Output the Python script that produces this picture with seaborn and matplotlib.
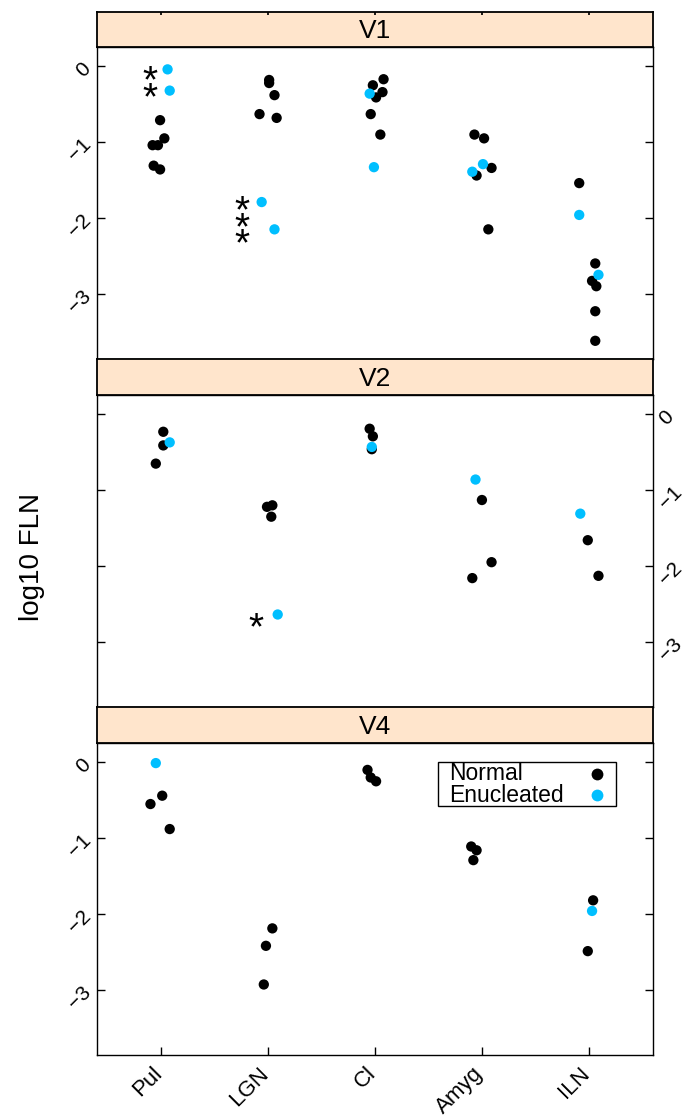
import numpy as np
import pandas as pd
import matplotlib
matplotlib.use("Agg")
import matplotlib.pyplot as plt
import seaborn as sns
from matplotlib.patches import Rectangle
from matplotlib.transforms import ScaledTranslation

# ---------------- data (log10 FLN) ----------------
regions = ["Pul", "LGN", "Cl", "Amyg", "ILN"]
areas = ["V1", "V2", "V4"]
groups = ["Normal", "Enucleated"]
yticks = [0, -1, -2, -3]
ytick_labels = ["0", "\u22121", "\u22122", "\u22123"]

# V1
v1_region = ["Pul"] * 8 + ["LGN"] * 7 + ["Cl"] * 8 + ["Amyg"] * 7 + ["ILN"] * 8
v1_group = (["N"] * 6 + ["E"] * 2 + ["N"] * 5 + ["E"] * 2 + ["N"] * 6 + ["E"] * 2
            + ["N"] * 5 + ["E"] * 2 + ["N"] * 6 + ["E"] * 2)
v1_value = [-0.71, -0.95, -1.04, -1.04, -1.31, -1.36, -0.04, -0.32,
            -0.18, -0.22, -0.38, -0.63, -0.68, -1.79, -2.15,
            -0.17, -0.25, -0.34, -0.41, -0.63, -0.90, -0.36, -1.33,
            -0.90, -0.95, -1.34, -1.44, -2.15, -1.29, -1.39,
            -1.54, -2.60, -2.83, -2.90, -3.23, -3.62, -1.96, -2.75]
v1_jitter = [-0.01, 0.03, -0.08, -0.03, -0.07, -0.01, 0.06, 0.08,
             0.01, 0.01, 0.06, -0.08, 0.08, -0.06, 0.06,
             0.08, -0.02, 0.07, 0.01, -0.04, 0.05, -0.05, -0.01,
             -0.07, 0.02, 0.09, -0.05, 0.06, 0.01, -0.09,
             -0.09, 0.06, 0.03, 0.07, 0.06, 0.06, -0.09, 0.09]

# V2
v2_region = ["Pul"] * 4 + ["LGN"] * 4 + ["Cl"] * 4 + ["Amyg"] * 4 + ["ILN"] * 3
v2_group = (["N"] * 3 + ["E"] + ["N"] * 3 + ["E"] + ["N"] * 3 + ["E"]
            + ["N"] * 3 + ["E"] + ["N"] * 2 + ["E"])
v2_value = [-0.23, -0.41, -0.65, -0.37,
            -1.20, -1.22, -1.35, -2.64,
            -0.19, -0.29, -0.46, -0.43,
            -1.13, -1.95, -2.16, -0.86,
            -1.66, -2.13, -1.31]
v2_jitter = [0.02, 0.02, -0.05, 0.08,
             0.04, -0.01, 0.03, 0.09,
             -0.05, -0.02, -0.03, -0.03,
             0.00, 0.09, -0.09, -0.06,
             -0.01, 0.09, -0.08]

# V4
v4_region = ["Pul"] * 4 + ["LGN"] * 3 + ["Cl"] * 3 + ["Amyg"] * 3 + ["ILN"] * 3
v4_group = (["N"] * 3 + ["E"] + ["N"] * 3 + ["N"] * 3 + ["N"] * 3
            + ["N"] * 2 + ["E"])
v4_value = [-0.44, -0.55, -0.88, -0.01,
            -2.19, -2.42, -2.93,
            -0.10, -0.20, -0.25,
            -1.11, -1.16, -1.29,
            -1.82, -2.49, -1.96]
v4_jitter = [0.01, -0.10, 0.08, -0.05,
             0.04, -0.02, -0.04,
             -0.07, -0.04, 0.01,
             -0.10, -0.05, -0.08,
             0.04, -0.01, 0.03]

# significance stars: (area, region, offset, value, label)
stars = [("V1", "Pul", -0.10, -0.04, "*"), ("V1", "Pul", -0.10, -0.27, "*"),
         ("V1", "LGN", -0.24, -1.76, "*"), ("V1", "LGN", -0.24, -1.98, "*"),
         ("V1", "LGN", -0.24, -2.19, "*"),
         ("V2", "LGN", -0.11, -2.67, "*")]

names = {"N": "Normal", "E": "Enucleated"}
frames = []
for a, r, g, v, j in [("V1", v1_region, v1_group, v1_value, v1_jitter),
                      ("V2", v2_region, v2_group, v2_value, v2_jitter),
                      ("V4", v4_region, v4_group, v4_value, v4_jitter)]:
    frames.append(pd.DataFrame({"area": a, "region": r, "group": [names[x] for x in g],
                                "value": v, "jitter": j}))
df = pd.concat(frames, ignore_index=True)
pos = {r: i + 1 for i, r in enumerate(regions)}
df["x"] = df["region"].map(pos) + df["jitter"]
# Normal drawn first, Enucleated on top
df["order"] = df["group"].map({"Normal": 0, "Enucleated": 1})
df = df.sort_values("order", kind="stable")

palette = {"Normal": "black", "Enucleated": "#00BFFF"}

# ---------------- figure ----------------
sns.set_theme(style="white")
plt.rcParams["font.family"] = ["Liberation Sans", "DejaVu Sans"]
plt.rcParams["axes.unicode_minus"] = False
plt.rcParams["text.color"] = "black"
plt.rcParams["xtick.color"] = "black"
plt.rcParams["ytick.color"] = "black"

W, H = 688, 1117
fig = plt.figure(figsize=(W / 100, H / 100), dpi=100)

def box(left, top, width, bottom):
    return [left / W, 1 - bottom / H, width / W, (bottom - top) / H]

panel_px = [(47, 359), (395, 707), (743, 1055)]
strip_px = [(12, 47), (359, 395), (707, 743)]

for i, area in enumerate(areas):
    ax = fig.add_axes(box(97, panel_px[i][0], 556, panel_px[i][1]))
    sub = df[df["area"] == area]
    sns.scatterplot(data=sub, x="x", y="value", hue="group", hue_order=groups,
                    palette=palette, s=55, linewidth=0, legend=False, ax=ax)
    ax.set_xlim(0.4, 5.6)
    ax.set_ylim(-3.86, 0.255)
    ax.set_xlabel("")
    ax.set_ylabel("")
    ax.set_yticks(yticks)
    ax.set_yticklabels(ytick_labels)
    ax.tick_params(axis="y", direction="in", length=6, width=1, color="black",
                   left=True, right=True, labelleft=(i != 1), labelright=(i == 1),
                   labelsize=15, labelrotation=45, pad=2, labelcolor="black")
    if i == 2:
        ax.set_xticks(range(1, 6))
        ax.set_xticklabels(regions, rotation=45, ha="right", va="top")
        ax.tick_params(axis="x", direction="in", length=6, width=1, color="black",
                       bottom=True, labelsize=16, pad=6, labelcolor="black")
        shift = ScaledTranslation(5 / 100, 0, fig.dpi_scale_trans)
        for lab in ax.get_xticklabels():
            lab.set_transform(lab.get_transform() + shift)
    else:
        ax.set_xticks([])
    for sp in ax.spines.values():
        sp.set_color("black")
        sp.set_linewidth(1)

    for (sa, sr, off, val, lab) in stars:
        if sa == area:
            ax.text(pos[sr] + off, val, lab, fontsize=28, ha="center", va="baseline",
                    transform=ax.transData + ScaledTranslation(0, -0.58 * 28 / 72,
                                                               fig.dpi_scale_trans))

    # strip
    st = fig.add_axes(box(97, strip_px[i][0], 556, strip_px[i][1]))
    st.set_facecolor("#FFE5CC")
    st.set_xlim(0.4, 5.6)
    st.set_ylim(0, 1)
    st.set_yticks([])
    if i == 0:
        st.set_xticks(range(1, 6))
        st.tick_params(axis="x", top=True, bottom=False, direction="in", length=2,
                       labeltop=False, labelbottom=False, color="black")
    else:
        st.set_xticks([])
    for sp in st.spines.values():
        sp.set_color("black")
        sp.set_linewidth(1.3)
    st.text(0.5, 0.45, area, transform=st.transAxes, ha="center", va="center",
            fontsize=19)

    if i == 2:
        # key in the V4 panel
        ax.add_patch(Rectangle((0.613, 0.798), 0.32, 0.142, transform=ax.transAxes,
                               fill=False, edgecolor="black", lw=1, zorder=5))
        for k, (g, yy) in enumerate(zip(groups, [0.902, 0.832])):
            ax.text(0.633, yy, g, transform=ax.transAxes, ha="left", va="center",
                    fontsize=16.5)
            ax.plot([0.899], [yy], transform=ax.transAxes, marker="o", ms=8.5,
                    color=palette[g], linestyle="none", markeredgewidth=0)

fig.text(32 / W, 1 - 557 / H, "log10 FLN", rotation=90, ha="center", va="center",
         fontsize=20)

fig.savefig("out.png", dpi=100)
